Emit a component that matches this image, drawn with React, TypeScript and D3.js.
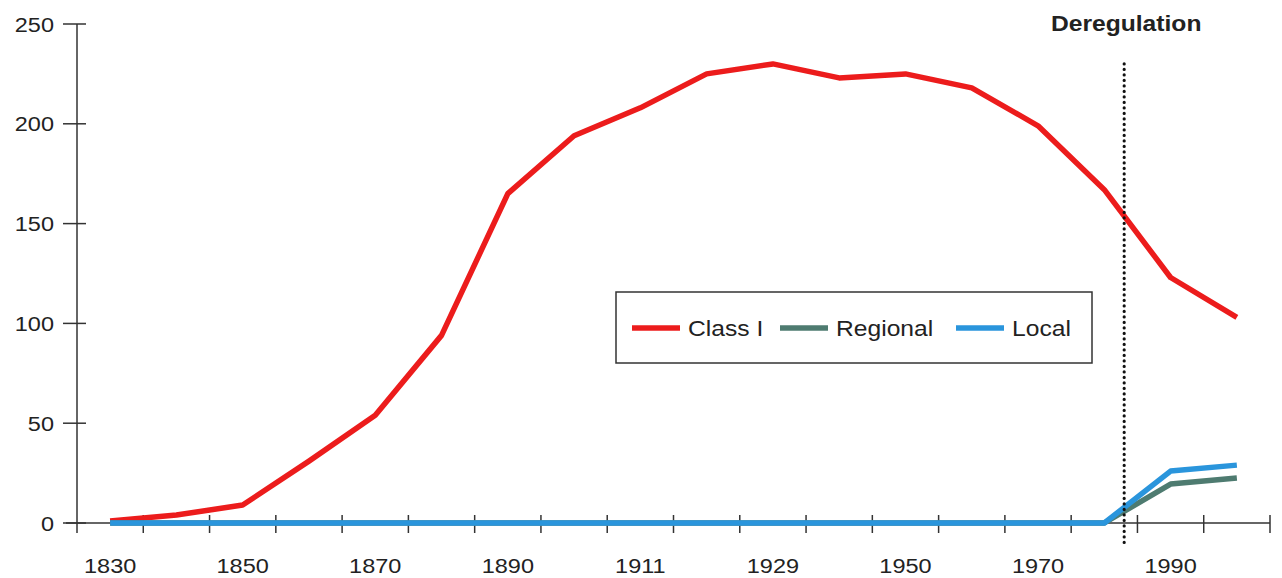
import React from 'react';
import * as d3 from 'd3';

// Category axis, one slot per observation (labels are shown on every other slot)
const years = ['1830', '1840', '1850', '1860', '1870', '1880', '1890', '1900', '1911', '1920',
  '1929', '1940', '1950', '1960', '1970', '1980', '1990', '2000'];
const labelledYears = ['1830', '1850', '1870', '1890', '1911', '1929', '1950', '1970', '1990'];
const yTicks = [0, 50, 100, 150, 200, 250];

const classI = [1, 4, 9, 31, 54, 94, 165, 194, 208, 225, 230, 223, 225, 218, 199, 167, 123, 103];
const regional = [0, 0, 0, 0, 0, 0, 0, 0, 0, 0, 0, 0, 0, 0, 0, 0, 19.5, 22.5];
const local = [0, 0, 0, 0, 0, 0, 0, 0, 0, 0, 0, 0, 0, 0, 0, 0, 26, 29];

// deregulation marker sits a bit after the 1980 observation
const deregulation = { after: '1980', offset: 0.3, label: 'Deregulation' };

const series = [
  { name: 'Class I', values: classI, color: '#ec1c1c' },
  { name: 'Regional', values: regional, color: '#4e7b70' },
  { name: 'Local', values: local, color: '#2a95dc' },
];

const W = 1282;
const H = 578;
const FONT = '"Liberation Sans", Arial, Helvetica, sans-serif';
const SX = 'scale(1.12,1)';
const TEXT = '#222';

export default function App() {
  const x = d3.scaleBand<string>().domain(years).range([77, 1270]).padding(0);
  const y = d3.scaleLinear().domain([0, 250]).range([523, 24]);
  const cx = (yr: string) => (x(yr) ?? 0) + x.bandwidth() / 2;

  const line = d3.line<number>()
    .x((_, i) => cx(years[i]))
    .y((d) => y(d))
    .curve(d3.curveLinear);

  const derX = cx(deregulation.after) + deregulation.offset * x.bandwidth();
  const step = x.bandwidth();
  const xEnd = (x(years[0]) ?? 0) + years.length * step;

  return (
    <svg width={W} height={H} style={{ position: 'fixed', left: 0, top: 0, background: '#fff' }}
      fontFamily={FONT}>
      <rect width={W} height={H} fill="#fff" />

      {/* y axis */}
      <line x1={77} x2={77} y1={y(250)} y2={y(0) + 10} stroke="#333" strokeWidth={1.5} />
      {yTicks.map((t) => (
        <g key={t}>
          <line x1={63} x2={86} y1={y(t)} y2={y(t)} stroke="#333" strokeWidth={1.5} />
          <text transform={`translate(54,${y(t) + 7.5}) ${SX}`} textAnchor="end" fontSize={21} fill={TEXT}>{t}</text>
        </g>
      ))}

      {/* x axis */}
      <line x1={66} x2={xEnd} y1={y(0)} y2={y(0)} stroke="#333" strokeWidth={1.5} />
      {years.map((yr, i) => i === 0 ? null : (
        <line key={yr} x1={x(yr)} x2={x(yr)} y1={y(0) - 8} y2={y(0) + 10} stroke="#333" strokeWidth={1.5} />
      ))}
      <line x1={xEnd} x2={xEnd} y1={y(0) - 8} y2={y(0) + 10} stroke="#333" strokeWidth={1.5} />
      {labelledYears.map((yr) => (
        <text key={yr} transform={`translate(${cx(yr)},573) ${SX}`} textAnchor="middle" fontSize={21} fill={TEXT}>{yr}</text>
      ))}

      {/* series */}
      {series.map((s) => (
        <path key={s.name} d={line(s.values) ?? ''} fill="none" stroke={s.color} strokeWidth={5.5}
          strokeLinejoin="round" strokeLinecap="butt" />
      ))}

      {/* deregulation marker */}
      <line x1={derX} x2={derX} y1={y(230)} y2={y(-11)} stroke="#111" strokeWidth={3.2}
        strokeDasharray="0,5.5" strokeLinecap="round" />
      <text transform={`translate(${derX + 2},31) ${SX}`} textAnchor="middle" fontSize={22}
        fontWeight="bold" fill={TEXT}>{deregulation.label}</text>

      {/* legend */}
      <rect x={616} y={292} width={476} height={71} fill="#fff" stroke="#333" strokeWidth={1.5} />
      {series.map((s, i) => {
        const lx = [632, 780, 956][i];
        return (
          <g key={s.name}>
            <line x1={lx} x2={lx + 48} y1={328} y2={328} stroke={s.color} strokeWidth={5.5} />
            <text transform={`translate(${lx + 56},336) ${SX}`} fontSize={22} fill={TEXT}>{s.name}</text>
          </g>
        );
      })}
    </svg>
  );
}
